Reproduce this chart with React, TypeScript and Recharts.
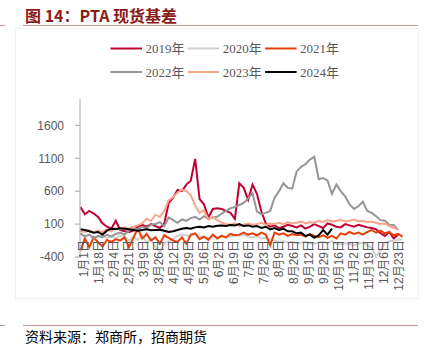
import React from 'react';
import { LineChart, Line, XAxis, YAxis } from 'recharts';

// day of year (leap-year calendar), sampled every 5 days
const DAYS = [
  0, 5, 10, 15, 20, 25, 30, 35, 40, 45,
  50, 55, 60, 65, 70, 75, 80, 85, 90, 95,
  100, 105, 110, 115, 120, 125, 130, 135, 140, 145,
  150, 155, 160, 165, 170, 175, 180, 185, 190, 195,
  200, 205, 210, 215, 220, 225, 230, 235, 240, 245,
  250, 255, 260, 265, 270, 275, 280, 285, 290, 295,
  300, 305, 310, 315, 320, 325, 330, 335, 340, 345,
  350, 355, 360, 365,
];

const Y2019 = [
  360, 250, 300, 260, 210, 110, 60, 30, 150, 10,
  -10, -20, 0, 60, 90, 60, 100, 70, 40, 110,
  420, 500, 620, 600, 700, 760, 1090, 480, 400, 200,
  330, 340, 330, 300, 270, 180, 720, 650, 470, 700,
  560, 290, 110, 60, 80, 40, 60, 90, 70, 50,
  80, 30, 60, 100, 70, 40, 110, 90, 60, 50,
  100, 80, 60, 90, 70, 50, 40, 20, -40, -80,
  -20, -120, -60, null,
];

const Y2020 = [
  -50, -80, -60, -100, -90, -60, -110, -80, -120, -70,
  -90, -150, -100, -140, -60, -180, -120, -250, -320, -200,
  -160, -120, -80, -60, -70, -90, -50, -80, -100, -120,
  -90, -100, -80, -110, -90, -70, -80, -60, -90, -100,
  -80, -120, -110, -130, -150, -170, -160, -180, -170, -190,
  -180, -170, -190, -200, -180, -170, -190, -160, -200, -210,
  -190, -200, -220, -200, -180, -220, -260, -390, -300, -180,
  -160, -150, -140, -130,
];

const Y2021 = [
  -300, -120, -250, -100, -180, -240, -140, -170, -130, -150,
  -100, -250, -110, 30, -120, -50, -150, -100, -200, -70,
  -110, -150, -170, -100, -200, -60, -40, -130, -90, -140,
  -60, -120, -80, -100, -50, -70, -60, -30, -60, -40,
  -70, -30, -60, -220, -30, -60, -40, -80, -50, -70,
  -60, -90, -50, -80, -100, -70, -110, -80, -120, -40,
  -60, -20, -50, -30, -60, -20, 10, -30, 0, -40,
  -20, -70, -50, -90,
];

const Y2022 = [
  -40, -90, -60, -120, -80, -100, -60, -90, -50, -30,
  -60, 0, 40, 20, 60, 40, 90, 100, 130, 70,
  200, 160, 120, 170, 150, 190, 210, 170, 220, 180,
  200, 210, 260, 300, 340, 360, 390, 420, 490, 570,
  290, 250, 270, 300, 500, 600, 720, 650, 640, 900,
  970, 1010, 1080, 1120, 780, 800, 760, 560, 700, 600,
  520, 400, 330, 370, 440, 300, 270, 220, 160, 150,
  90, 85, 10, null,
];

const Y2023 = [
  0, -20, 10, -30, 0, -20, 20, -10, 40, 20,
  50, 30, 60, 80, 110, 180, 150, 240, 210, 300,
  460, 510, 580, 620, 600, 540, 380, 270, 310, 170,
  210, 160, 120, 100, 90, 110, 70, 90, 110, 90,
  100, 120, 90, 110, 100, 120, 100, 130, 110, 120,
  140, 110, 130, 120, 150, 130, 160, 140, 150, 160,
  140, 150, 170, 140, 150, 130, 140, 120, 100, 110,
  70, 40, 20, null,
];

const Y2024 = [
  20, 10, -10, -30, -20, -60, 0, 30, 20, 35,
  30, 20, 10, 0, 10, 20, 5, 10, 15, 0,
  -20, -10, 10, 30, 40, 30, 50, 60, 50, 70,
  60, 75, 80, 70, 85, 80, 100, 70, 80, 60,
  70, 40, 60, 20, 40, 10, 30, -10, -10, -40,
  -30, -80, -60, -110, -70, 10, -60, 30, null, null,
  null, null, null, null, null, null, null, null, null, null,
  null, null, null, null,
];

const SERIES_NAMES = ['2019年', '2020年', '2021年', '2022年', '2023年', '2024年'];
const SERIES_COLORS = ['#C00030', '#D0D0D0', '#E5400A', '#969696', '#F9A58B', '#000000'];
const SERIES_VALUES = [Y2019, Y2020, Y2021, Y2022, Y2023, Y2024];

const TICK_DAYS = [0, 17, 34, 51, 68, 85, 102, 119, 136, 153, 170, 187, 204, 221, 238, 255, 272, 289, 306, 323, 340, 357];
const TICK_LABELS = [
  '1月1日', '1月18日', '2月4日', '2月21日', '3月9日', '3月26日', '4月12日', '4月29日',
  '5月16日', '6月2日', '6月19日', '7月6日', '7月23日', '8月9日', '8月26日', '9月12日',
  '9月29日', '10月16日', '11月2日', '11月19日', '12月6日', '12月23日',
];
const Y_TICKS = [-400, 100, 600, 1100, 1600];

const data = DAYS.map((d, i) => {
  const row: any = { x: d + 0.5 };
  SERIES_VALUES.forEach((vals, k) => {
    row['s' + k] = vals[i];
  });
  return row;
});

const SANS = '"Liberation Sans", Arial, "Noto Sans CJK SC", sans-serif';
const SERIF = '"Liberation Serif", "Times New Roman", "Noto Sans CJK SC", serif';
const CJK = '"Noto Sans CJK SC", sans-serif';

const LABEL_TOP = 240;

const XTick = (props: any) => {
  const { x, payload } = props;
  const idx = TICK_DAYS.indexOf(Math.round(payload.value - 0.5));
  return (
    <text
      transform={`translate(${x + 3},${LABEL_TOP}) rotate(-90)`}
      textAnchor="end"
      dy="0.35em"
      fontSize={12}
      fill="#595959"
      fontFamily={SANS}
    >
      {TICK_LABELS[idx]}
    </text>
  );
};

const LegendBox = () => (
  <svg width={425} height={90} style={{ position: 'absolute', left: 0, top: 0 }}>
    {SERIES_NAMES.map((name, i) => {
      const row = Math.floor(i / 3);
      const col = i % 3;
      const x1 = 110.5 + col * 77.3;
      const y = 48.5 + row * 23.5;
      return (
        <g key={name}>
          <line x1={x1} x2={x1 + 31.5} y1={y} y2={y} stroke={SERIES_COLORS[i]} strokeWidth={2} />
          <text x={x1 + 35} y={y} dy="0.35em" fontSize={13} fill="#595959" fontFamily={SERIF}>
            {name}
          </text>
        </g>
      );
    })}
  </svg>
);

export default function App() {
  return (
    <div style={{ position: 'absolute', left: 0, top: 0, width: 425, height: 359, background: '#fff', overflow: 'hidden' }}>
      {/* faint chart frame */}
      <div style={{ position: 'absolute', left: 15, top: 28, width: 402, height: 269, border: '1px solid #F0F0F0' }} />
      {/* title */}
      <div
        style={{
          position: 'absolute', left: 25, top: 5, fontSize: 16, lineHeight: '20px', fontWeight: 700,
          color: '#8B1A1A', fontFamily: CJK, whiteSpace: 'nowrap',
        }}
      >
        图 14：PTA 现货基差
      </div>
      <div style={{ position: 'absolute', left: 0, top: 25, width: 5, height: 1, background: '#C99A9A' }} />
      <div style={{ position: 'absolute', left: 23, top: 25, width: 395, height: 1, background: '#C99A9A' }} />
      <LegendBox />
      <div style={{ position: 'absolute', left: 0, top: 0 }}>
        <LineChart width={425} height={359} data={data} margin={{ top: 99, right: 22, bottom: 72, left: 0 }}>
          <XAxis
            dataKey="x"
            type="number"
            domain={[0, 366]}
            ticks={TICK_DAYS.map((d) => d + 0.5)}
            interval={0}
            axisLine={false}
            tickLine={false}
            height={30}
            tick={<XTick />}
          />
          <YAxis
            type="number"
            domain={[-400, 2000]}
            ticks={Y_TICKS}
            interval={0}
            width={80}
            axisLine={{ stroke: '#A6A6A6' }}
            tickLine={{ stroke: '#A6A6A6' }}
            tickSize={5}
            tickMargin={11}
            tick={{ fontSize: 12, fill: '#595959', fontFamily: SANS }}
          />
          {SERIES_NAMES.map((name, i) => (
            <Line
              key={name}
              type="linear"
              dataKey={'s' + i}
              name={name}
              stroke={SERIES_COLORS[i]}
              strokeWidth={2}
              dot={false}
              activeDot={false}
              isAnimationActive={false}
            />
          ))}
        </LineChart>
      </div>
      <div style={{ position: 'absolute', left: 0, top: 325, width: 5, height: 1, background: '#C99A9A' }} />
      <div style={{ position: 'absolute', left: 23, top: 325, width: 395, height: 1, background: '#C99A9A' }} />
      <div
        style={{
          position: 'absolute', left: 25, top: 327, fontSize: 14, lineHeight: '18px', color: '#000',
          fontFamily: CJK, whiteSpace: 'nowrap',
        }}
      >
        资料来源：郑商所，招商期货
      </div>
    </div>
  );
}
